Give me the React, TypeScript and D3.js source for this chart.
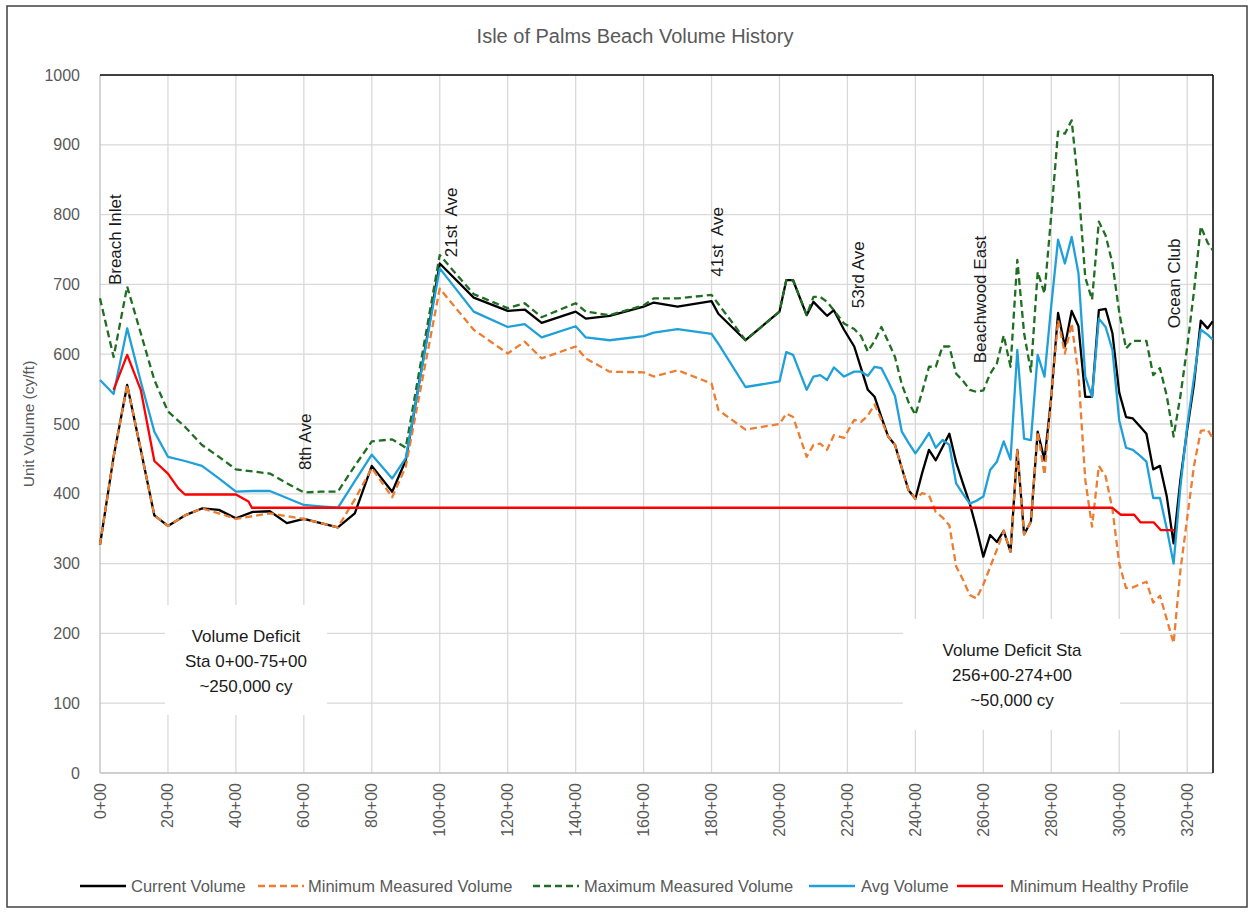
import React from 'react';
import * as d3 from 'd3';

// Stations (in hundreds of feet, "x+00")
const stations = [
  0, 4, 8, 12, 16, 20, 25, 30, 35, 40, 45, 50, 55, 60, 65, 70, 75, 80, 86, 90,
  100, 110, 120, 125, 130, 140, 143, 150, 160, 163, 170, 180, 182, 190, 200,
  202, 204, 208, 210, 212, 214, 216, 219, 222, 224, 226, 228, 230,
  232, 234, 236, 238, 240, 242, 244, 246, 248, 250, 252, 254, 256, 258, 260, 262, 264, 266, 268, 270,
  272, 274, 276, 278, 280, 282, 284, 286, 288, 290, 292, 294, 296, 298, 300, 302, 304, 306, 308, 310,
  312, 314, 316, 318, 320, 322, 324, 326, 327.5,
];

const currentVolume = [
  327, 453, 556, 463, 369, 354, 369, 379, 377, 365, 374, 375, 358, 364, 358, 352, 372, 440, 403, 448,
  730, 681, 662, 664, 645, 661, 651, 655, 668, 674, 668, 676, 658, 620, 661,
  706, 706, 656, 675, 665, 655, 663, 635, 611, 580, 549, 539, 510,
  482, 470, 437, 405, 393, 430, 463, 448, 467, 486, 445, 415, 386, 350, 310, 341, 331, 347, 317, 463,
  342, 360, 489, 448, 539, 659, 611, 662, 640, 539, 539, 663, 665, 630, 545, 510, 508, 497, 486, 435,
  440, 396, 329, 420, 492, 557, 648, 637, 647,
];

const minimumMeasured = [
  327, 453, 556, 463, 369, 354, 369, 379, 372, 364, 368, 372, 368, 364, 358, 352, 392, 437, 395, 439,
  694, 635, 601, 618, 594, 611, 594, 575, 574, 568, 577, 558, 520, 492, 500,
  515, 510, 453, 470, 472, 463, 484, 480, 506, 503, 512, 528, 506,
  482, 470, 437, 405, 393, 401, 398, 374, 366, 355, 296, 277, 255, 250, 270, 295, 320, 347, 317, 463,
  342, 360, 489, 427, 540, 649, 601, 644, 570, 420, 353, 440, 425, 378, 300, 265, 266, 270, 274, 244,
  254, 220, 186, 290, 365, 440, 490, 492, 480,
];

const maximumMeasured = [
  680, 596, 697, 630, 563, 518, 496, 470, 453, 435, 432, 429, 415, 402, 403, 403, 440, 475, 478, 466,
  742, 686, 666, 673, 653, 673, 661, 656, 670, 680, 680, 685, 672, 620, 661,
  706, 706, 656, 682, 682, 675, 663, 644, 636, 626, 604, 619, 639,
  618, 596, 557, 531, 513, 546, 582, 582, 611, 611, 572, 562, 549, 546, 548, 572, 587, 627, 582, 735,
  630, 575, 718, 687, 800, 919, 916, 935, 840, 710, 678, 790, 770, 730, 660, 608, 619, 619, 619, 570,
  580, 540, 482, 540, 610, 690, 783, 760, 749,
];

const avgVolume = [
  563, 543, 637, 561, 489, 453, 447, 440, 422, 403, 404, 404, 394, 384, 382, 380, 418, 456, 422, 451,
  723, 661, 639, 643, 624, 640, 624, 620, 626, 631, 636, 629, 615, 553, 561,
  603, 599, 549, 568, 570, 563, 581, 568, 575, 575, 569, 582, 580,
  561, 540, 489, 473, 458, 472, 487, 466, 477, 470, 415, 400, 386, 390, 396, 434, 446, 475, 449, 606,
  479, 477, 599, 568, 670, 764, 730, 768, 716, 568, 539, 651, 639, 606, 505, 466, 463, 455, 446, 394,
  394, 350, 300, 410, 497, 566, 635, 628, 621,
];

// Minimum Healthy Profile (own break points)
const healthyStations = [4, 8, 12, 16, 20, 23, 25, 40, 43.7, 44.7, 298, 300.4, 304.4, 306.3, 310.2, 312.2, 316.3];
const healthyValues = [549, 599, 549, 447, 429, 408, 399, 399, 389, 380, 380, 370, 370, 359, 359, 348, 348];

const yTicks = [0, 100, 200, 300, 400, 500, 600, 700, 800, 900, 1000];
const xTicks = [0, 20, 40, 60, 80, 100, 120, 140, 160, 180, 200, 220, 240, 260, 280, 300, 320];
const xTickLabels = xTicks.map((t) => `${t}+00`);

const landmarkNames = ['Breach Inlet', '8th Ave', '21st  Ave', '41st  Ave', '53rd Ave', 'Beachwood East', 'Ocean Club'];
const landmarkStations = [4.7, 60.4, 103.4, 181.9, 223.3, 259.2, 316.3];
const landmarkBaseValues = [699, 434, 739, 711, 666, 587, 637];

const seriesNames = ['Current Volume', 'Minimum Measured Volume', 'Maximum Measured Volume', 'Avg Volume', 'Minimum Healthy Profile'];
const seriesColors = ['#000000', '#ED7D31', '#1F6E22', '#1FA0D8', '#FF0000'];
const seriesDash = ['', '7 4', '7 4', '', ''];

const deficitTexts = [
  ['Volume Deficit', 'Sta 0+00-75+00', '~250,000 cy'],
  ['Volume Deficit Sta', '256+00-274+00', '~50,000 cy'],
];

export default function App() {
  const W = 1254;
  const H = 914;
  const left = 100;
  const right = 1213;
  const top = 75;
  const bottom = 773;
  const x = d3.scaleLinear().domain([0, 327.6]).range([left, right]);
  const y = d3.scaleLinear().domain([0, 1000]).range([bottom, top]);
  const line = d3
    .line<[number, number]>()
    .x((d) => x(d[0]))
    .y((d) => y(d[1]));

  const seriesData: [number, number][][] = [
    stations.map((s, i) => [s, currentVolume[i]] as [number, number]),
    stations.map((s, i) => [s, minimumMeasured[i]] as [number, number]),
    stations.map((s, i) => [s, maximumMeasured[i]] as [number, number]),
    stations.map((s, i) => [s, avgVolume[i]] as [number, number]),
    healthyStations.map((s, i) => [s, healthyValues[i]] as [number, number]),
  ];

  const font = "'Liberation Sans', Arial, sans-serif";
  const grey = '#595959';
  const gridColor = '#D9D9D9';

  const legendLineX = [80, 258, 533, 809, 957];
  const legendTextX = [131, 308, 584, 861, 1010];
  const legendY = 886;

  const boxes = [
    { x0: 165, x1: 327, y0: 605, y1: 715, cx: 246, ly: [636, 661, 686] },
    { x0: 903, x1: 1120, y0: 619, y1: 730, cx: 1012, ly: [650, 675, 700] },
  ];

  return (
    <svg
      width={W}
      height={H}
      style={{ position: 'absolute', left: 0, top: 0, background: '#fff' }}
      fontFamily={font}
    >
      <rect x={0} y={0} width={W} height={H} fill="#fff" />
      <rect x={7} y={6} width={1240} height={901} fill="#fff" stroke="#404040" strokeWidth={1.5} />

      {/* title */}
      <text x={635} y={36} textAnchor="middle" dominantBaseline="central" fontSize={20} fill={grey}>
        Isle of Palms Beach Volume History
      </text>

      {/* gridlines */}
      {yTicks
        .filter((t) => t > 0 && t < 1000)
        .map((t) => (
          <line key={'gy' + t} x1={left} x2={right} y1={y(t)} y2={y(t)} stroke={gridColor} strokeWidth={1.3} />
        ))}
      {xTicks
        .filter((t) => t > 0)
        .map((t) => (
          <line key={'gx' + t} x1={x(t)} x2={x(t)} y1={top} y2={bottom} stroke={gridColor} strokeWidth={1.3} />
        ))}

      {/* axes lines */}
      <line x1={left} x2={left} y1={top} y2={bottom} stroke="#BFBFBF" strokeWidth={1.3} />
      <line x1={left} x2={right} y1={bottom} y2={bottom} stroke="#BFBFBF" strokeWidth={1.3} />
      <line x1={left} x2={right} y1={top} y2={top} stroke="#000" strokeWidth={1.5} />
      <line x1={right} x2={right} y1={top} y2={bottom} stroke="#000" strokeWidth={1.5} />

      {/* deficit boxes */}
      {boxes.map((b, i) => (
        <g key={'box' + i}>
          <rect x={b.x0} y={b.y0} width={b.x1 - b.x0} height={b.y1 - b.y0} fill="#fff" />
          {deficitTexts[i].map((t, j) => (
            <text
              key={j}
              x={b.cx}
              y={b.ly[j]}
              textAnchor="middle"
              dominantBaseline="central"
              fontSize={17}
              fill="#1a1a1a"
            >
              {t}
            </text>
          ))}
        </g>
      ))}

      {/* y ticks */}
      {yTicks.map((t) => (
        <text key={'yt' + t} x={80} y={y(t)} textAnchor="end" dominantBaseline="central" fontSize={16} fill={grey}>
          {t}
        </text>
      ))}
      <text
        transform={`translate(28, ${(top + bottom) / 2}) rotate(-90)`}
        textAnchor="middle"
        dominantBaseline="central"
        fontSize={15.5}
        fill={grey}
      >
        Unit Volume (cy/ft)
      </text>

      {/* x ticks */}
      {xTicks.map((t, i) => (
        <text
          key={'xt' + t}
          transform={`translate(${x(t)}, 783) rotate(-90)`}
          textAnchor="end"
          dominantBaseline="central"
          fontSize={16}
          fill={grey}
        >
          {xTickLabels[i]}
        </text>
      ))}

      {/* landmarks */}
      {landmarkNames.map((n, i) => (
        <text
          key={'lm' + i}
          transform={`translate(${x(landmarkStations[i])}, ${y(landmarkBaseValues[i])}) rotate(-90)`}
          textAnchor="start"
          dominantBaseline="central"
          fontSize={17}
          fill="#1a1a1a"
          style={{ whiteSpace: 'pre' }}
        >
          {n}
        </text>
      ))}

      {/* series */}
      {seriesData.map((d, i) => (
        <path
          key={'s' + i}
          d={line(d) || ''}
          fill="none"
          stroke={seriesColors[i]}
          strokeWidth={2.3}
          strokeDasharray={seriesDash[i] || undefined}
          strokeLinejoin="round"
        />
      ))}

      {/* legend */}
      {seriesNames.map((n, i) => (
        <g key={'lg' + i}>
          <line
            x1={legendLineX[i]}
            x2={legendLineX[i] + 46}
            y1={legendY}
            y2={legendY}
            stroke={seriesColors[i]}
            strokeWidth={2.3}
            strokeDasharray={seriesDash[i] || undefined}
          />
          <text x={legendTextX[i]} y={legendY} dominantBaseline="central" fontSize={16.5} fill={grey}>
            {n}
          </text>
        </g>
      ))}
    </svg>
  );
}
